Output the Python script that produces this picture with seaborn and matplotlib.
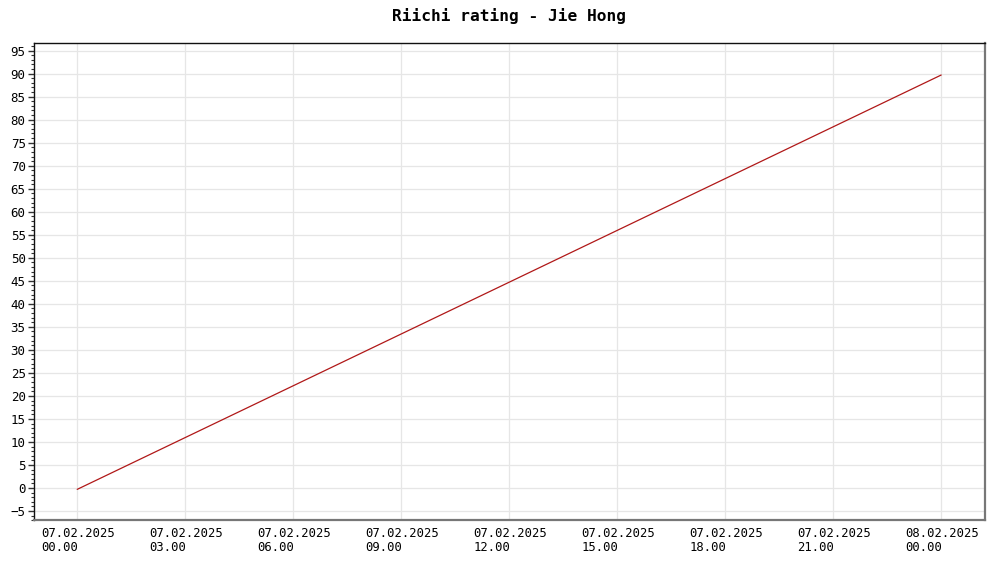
import numpy as np
import pandas as pd
import seaborn as sns
import matplotlib.pyplot as plt
import matplotlib.dates as mdates
import matplotlib.transforms as mtransforms
from matplotlib.ticker import MultipleLocator

# rating history
dates = ['2025-02-07 00:00', '2025-02-08 00:00']
rating = [-0.3, 89.7]

df = pd.DataFrame({'date': pd.to_datetime(dates), 'rating': rating})

sns.set_style('white')
plt.rcParams['font.family'] = ['DejaVu Sans Mono']
plt.rcParams['text.color'] = 'black'
plt.rcParams['xtick.color'] = 'black'
plt.rcParams['ytick.color'] = 'black'

fig = plt.figure(figsize=(10, 5.63), dpi=100)
ax = fig.add_axes([0.034, 0.076, 0.951, 0.848])

sns.lineplot(data=df, x='date', y='rating', ax=ax, color='#b01818', linewidth=0.9)

ax.set_xlim(pd.Timestamp('2025-02-06 22:48'), pd.Timestamp('2025-02-08 01:13'))
ax.set_ylim(-7, 96.7)

ax.xaxis.set_major_locator(mdates.HourLocator(byhour=[0, 3, 6, 9, 12, 15, 18, 21]))
ax.xaxis.set_major_formatter(mdates.DateFormatter('%d.%m.%Y\n%H.%M'))
ax.yaxis.set_major_locator(MultipleLocator(5))
ax.yaxis.set_minor_locator(MultipleLocator(1))

ax.tick_params(axis='x', which='major', length=4, width=1, color='#333333',
               labelsize=8.8, pad=1)
ax.tick_params(axis='y', which='major', length=4, width=1, color='#333333',
               labelsize=9, pad=2, left=True)
ax.tick_params(axis='y', which='minor', length=2, width=0.8, color='#333333', left=True)

# date labels start just right of the tick's left side
offset = mtransforms.ScaledTranslation(-36 / 100, 0, fig.dpi_scale_trans)
for lbl in ax.get_xticklabels():
    lbl.set_horizontalalignment('left')
    lbl.set_linespacing(1.05)
    lbl.set_transform(lbl.get_transform() + offset)

ax.grid(True, which='major', color='#e6e6e6', linewidth=0.9)
ax.set_axisbelow(True)
ax.set_xlabel('')
ax.set_ylabel('')

ax.spines['left'].set_color('#111111')
ax.spines['top'].set_color('#111111')
ax.spines['left'].set_linewidth(1)
ax.spines['top'].set_linewidth(1)
ax.spines['right'].set_color('#777777')
ax.spines['bottom'].set_color('#777777')
ax.spines['right'].set_linewidth(1.6)
ax.spines['bottom'].set_linewidth(1.6)

ax.set_title('Riichi rating - Jie Hong', fontsize=11.6, fontweight='bold',
             color='black', pad=15.5)

fig.savefig('out.png', dpi=100)
